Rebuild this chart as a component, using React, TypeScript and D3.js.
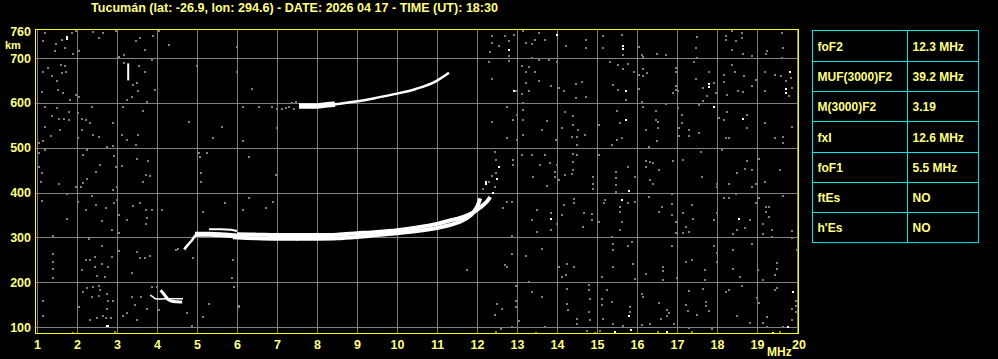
import React from "react";
import * as d3 from "d3";

const TITLE = "Tucumán (lat: -26.9, lon: 294.6) - DATE: 2026 04 17 - TIME (UT): 18:30";
const FREQ_TICKS = [1, 2, 3, 4, 5, 6, 7, 8, 9, 10, 11, 12, 13, 14, 15, 16, 17, 18, 19, 20];
const HEIGHT_TICKS = [100, 200, 300, 400, 500, 600, 700];
const HEIGHT_TOP_LABEL = 760;

const TABLE_LABELS = ["foF2", "MUF(3000)F2", "M(3000)F2", "fxI", "foF1", "ftEs", "h'Es"];
const TABLE_VALUES = ["12.3 MHz", "39.2 MHz", "3.19", "12.6 MHz", "5.5 MHz", "NO", "NO"];

// Echo traces [MHz, km]
const F2_FOOT: [number, number][] = [[4.68, 273], [4.76, 282], [4.88, 294], [4.97, 305], [5.1, 308]];
const F2_BAND: [number, number][] = [[4.95, 307], [5.3, 307], [5.7, 305], [6.0, 303]];
const F2_O: [number, number][] = [[5.9, 300], [6.5, 298], [7, 297], [7.5, 297], [8, 297], [8.5, 298], [9, 301], [9.5, 305], [10, 309], [10.5, 314], [11, 321], [11.3, 327], [11.6, 336], [11.85, 350], [12.0, 368], [12.08, 387]];
const F2_X: [number, number][] = [[6.0, 307], [6.5, 306], [7, 305], [7.5, 305], [8, 305], [8.5, 306], [9, 309], [9.5, 312], [10, 316], [10.5, 322], [11, 330], [11.3, 337], [11.6, 344], [11.9, 355], [12.1, 368], [12.25, 380], [12.33, 390]];
const F1_LINE: [number, number][] = [[5.3, 318], [5.6, 318], [5.85, 317], [6.0, 314]];
const E_UPPER: [number, number][] = [[3.83, 171], [3.9, 167], [3.96, 163], [4.2, 163], [4.65, 163]];
const E_LOWER: [number, number][] = [[4.09, 182], [4.15, 176], [4.22, 168], [4.28, 161], [4.4, 157], [4.63, 156]];
const F2_2HOP_THICK: [number, number][] = [[7.55, 593], [7.9, 593], [8.2, 595], [8.45, 597]];
const F2_2HOP: [number, number][] = [[7.55, 593], [8.0, 594], [8.47, 597], [8.97, 603], [9.47, 611], [9.97, 620], [10.47, 631], [10.97, 648], [11.3, 667]];
const SPIKE: [number, number][] = [[3.28, 650], [3.28, 688]];

// Bright isolated echoes [MHz, km]
const WHITE_DOTS: [number, number][] = [
  [1.73, 748], [1.73, 744], [13.97, 754], [12.78, 721], [15.63, 729], [15.63, 722], [12.9, 628], [15.69, 628], [15.69, 564],
  [13.83, 344], [15.59, 385], [15.78, 405], [15.83, 96], [15.78, 126], [15.43, 91], [17.78, 644], [17.78, 637],
  [17.9, 594], [18.63, 566], [19.8, 672], [19.69, 632], [19.69, 624], [18.53, 343], [19.88, 180], [19.74, 103],
  [19.38, 88], [16.73, 92], [2.72, 104], [2.75, 104], [12.38, 401], [12.48, 432], [12.19, 422], [12.53, 458], [12.19, 426],
];

// Grey noise echoes [MHz, km]
const NOISE: [number, number][] = [
  [1.18, 757], [1.84, 758], [1.94, 762], [2.38, 760], [2.53, 747], [2.63, 757], [2.95, 762], [3.55, 747], [3.88, 751],
  [1.44, 734], [1.59, 743], [1.68, 725], [1.88, 712], [1.13, 740], [1.43, 717], [2.03, 717], [3.15, 710], [3.03, 704],
  [4.28, 732], [3.68, 721], [3.45, 740], [4.03, 762], [1.57, 687], [1.68, 684], [1.13, 672], [1.34, 661], [1.48, 650],
  [1.59, 669], [1.7, 670], [1.26, 680], [1.09, 626], [1.51, 631], [1.63, 624], [1.8, 609], [1.95, 620], [2.03, 616],
  [3.15, 691], [3.38, 643], [3.47, 646], [3.51, 628], [3.34, 616], [3.23, 609], [3.53, 684], [3.68, 670], [3.84, 698],
  [3.93, 630], [3.73, 605], [3.13, 594], [4.98, 684], [1.18, 592], [1.48, 590], [1.78, 581], [1.99, 579], [1.34, 572],
  [1.53, 566], [1.65, 566], [1.78, 564], [1.18, 549], [1.32, 528], [1.55, 542], [2.09, 566], [2.2, 563], [2.3, 557],
  [2.09, 542], [2.38, 531], [2.53, 527], [2.87, 557], [3.09, 531], [3.23, 520], [3.45, 508], [3.51, 531], [3.62, 583],
  [2.34, 592], [2.87, 505], [2.73, 503], [4.78, 559], [5.59, 549], [5.38, 523], [1.03, 512], [1.13, 516], [2.01, 523],
  [1.03, 490], [1.18, 496], [1.03, 460], [1.09, 445], [1.08, 426], [1.53, 421], [2.23, 496], [2.13, 486], [2.9, 484],
  [2.55, 463], [2.45, 449], [2.95, 460], [3.09, 461], [3.48, 477], [3.74, 472], [3.7, 441], [3.8, 440], [3.63, 426],
  [2.23, 432], [2.13, 424], [2.07, 414], [1.95, 414], [2.88, 408], [2.97, 415], [5.03, 490], [5.23, 490], [5.05, 481],
  [5.08, 445], [5.08, 426], [1.09, 384], [1.73, 399], [2.01, 381], [2.34, 395], [2.45, 374], [2.7, 367], [2.9, 378],
  [2.97, 385], [2.2, 363], [1.73, 344], [2.59, 339], [3.03, 352], [3.23, 340], [3.38, 372], [3.55, 379], [3.7, 363],
  [3.84, 363], [3.72, 346], [3.7, 333], [4.09, 363], [2.84, 318], [3.03, 311], [1.38, 305], [2.28, 299], [5.13, 359],
  [5.68, 378], [4.45, 273], [4.5, 277], [1.38, 264], [1.38, 247], [1.38, 232], [1.38, 212], [2.09, 230], [2.2, 251],
  [2.3, 251], [2.43, 258], [2.59, 243], [2.43, 236], [2.76, 235], [2.84, 258], [2.48, 217], [2.68, 214], [2.59, 282],
  [3.03, 272], [3.34, 223], [3.48, 270], [3.55, 257], [3.68, 256], [3.8, 260], [4.88, 256], [5.88, 252], [5.84, 211],
  [1.13, 161], [1.13, 126], [2.03, 146], [2.23, 190], [2.38, 191], [2.53, 193], [2.55, 185], [2.13, 180], [2.34, 170],
  [2.53, 171], [2.73, 175], [2.76, 161], [2.88, 161], [2.73, 143], [2.63, 126], [2.48, 123], [2.7, 123], [2.82, 123],
  [2.3, 117], [3.12, 126], [3.22, 133], [3.34, 169], [3.43, 152], [3.57, 169], [3.72, 143], [3.84, 191], [3.98, 191],
  [4.03, 140], [4.72, 133], [4.84, 105], [5.13, 124], [5.28, 154], [5.9, 191], [3.47, 117], [1.88, 88], [2.93, 92],
  [5.97, 727], [5.97, 670], [6.34, 634], [6.13, 593], [6.53, 594], [6.98, 545], [6.13, 518], [6.28, 482], [6.94, 442],
  [6.28, 390], [6.13, 363], [6.88, 381], [6.69, 368], [11.73, 230], [6.03, 146], [6.03, 149], [7.48, 296],
  [6.84, 592], [6.98, 589], [7.09, 589], [7.2, 590], [7.28, 592], [7.34, 602], [7.45, 604], [7.4, 589],
  [12.34, 751], [12.34, 736], [12.68, 751], [12.9, 754], [13.13, 762], [13.53, 757], [13.2, 736], [13.34, 734],
  [13.43, 743], [13.68, 743], [14.2, 730], [14.7, 743], [14.7, 725], [15.13, 751], [15.13, 725], [15.59, 754],
  [15.63, 710], [12.53, 730], [12.3, 715], [12.78, 695], [12.78, 740], [12.78, 706], [12.28, 693], [13.09, 684], [13.28, 682],
  [13.34, 702], [13.53, 697], [13.78, 698], [13.97, 693], [13.2, 670], [13.43, 670], [13.2, 646], [13.53, 650],
  [13.82, 639], [14.03, 635], [14.15, 628], [14.45, 645], [14.59, 648], [14.7, 616], [14.45, 613], [15.38, 643],
  [15.3, 693], [15.49, 687], [15.63, 678], [15.9, 670], [15.74, 689], [12.34, 656], [12.95, 628], [13.09, 622],
  [13.28, 628], [15.51, 630], [15.7, 609], [13.13, 601], [12.73, 594], [13.13, 587], [12.97, 575], [12.34, 559],
  [12.88, 564], [13.13, 564], [13.59, 541], [13.73, 561], [14.09, 546], [14.18, 581], [14.38, 572], [14.38, 553],
  [14.5, 542], [14.47, 526], [14.68, 531], [14.34, 526], [14.48, 508], [13.95, 520], [15.03, 553], [15.48, 584],
  [15.55, 558], [15.47, 520], [15.34, 508], [15.59, 523], [12.73, 523], [13.13, 531], [12.98, 520], [12.43, 493],
  [12.45, 475], [12.45, 445], [12.43, 415], [12.88, 475], [12.88, 463], [13.09, 486], [13.34, 486], [13.68, 486],
  [13.8, 469], [13.98, 463], [13.93, 449], [13.93, 437], [14.02, 430], [14.18, 441], [14.37, 488], [14.37, 471],
  [14.37, 452], [14.48, 486], [14.35, 443], [13.55, 463], [13.38, 437], [13.73, 416], [14.88, 437], [14.88, 422],
  [14.88, 409], [15.03, 486], [15.45, 449], [15.45, 434], [15.45, 419], [15.45, 404], [15.93, 437], [15.76, 458],
  [12.84, 381], [12.73, 381], [12.63, 368], [13.48, 363], [13.34, 340], [13.48, 314], [13.83, 357], [13.83, 318],
  [13.97, 333], [14.09, 352], [14.15, 374], [14.4, 387], [14.4, 378], [14.65, 357], [14.84, 355], [14.84, 342],
  [14.63, 325], [15.03, 337], [15.15, 378], [15.18, 385], [15.55, 370], [15.55, 359], [15.59, 337], [15.55, 318],
  [15.74, 378], [15.93, 380], [15.36, 303], [15.38, 288], [15.38, 273], [15.84, 292], [15.76, 282], [15.88, 243],
  [15.93, 210], [12.84, 305], [12.84, 264], [12.68, 240], [12.73, 235], [13.2, 260], [13.59, 277], [14.03, 235],
  [14.23, 242], [14.2, 219], [14.09, 214], [14.4, 235], [15.1, 214], [15.38, 237], [13.28, 202], [12.95, 193],
  [13.34, 180], [13.59, 169], [14.23, 188], [14.78, 197], [14.78, 184], [14.8, 165], [14.78, 136], [15.09, 165],
  [15.09, 152], [15.23, 184], [15.34, 158], [15.8, 146], [15.8, 135], [12.48, 154], [12.59, 143], [12.43, 128],
  [12.95, 160], [12.95, 146], [13.03, 116], [12.84, 103], [12.57, 98], [12.44, 91], [13.45, 88], [13.68, 102],
  [14.23, 154], [14.26, 140], [14.47, 120], [14.47, 109], [14.8, 117], [14.93, 88], [14.72, 94], [15.05, 94],
  [15.12, 120], [15.63, 105], [15.38, 109], [12.36, 440], [12.28, 425], [12.13, 410],
  [16.03, 727], [16.09, 708], [16.13, 704], [16.48, 712], [16.69, 710], [17.48, 749], [17.45, 725], [17.48, 702],
  [17.4, 693], [18.2, 752], [18.34, 762], [18.2, 743], [18.45, 740], [18.59, 757], [18.59, 747], [18.34, 721],
  [18.62, 712], [18.84, 706], [19.2, 712], [19.23, 717], [19.59, 757], [19.62, 725], [19.59, 702], [16.13, 678],
  [16.23, 669], [16.03, 665], [16.13, 661], [16.03, 633], [16.95, 680], [16.95, 670], [16.95, 639], [16.95, 631],
  [16.88, 625], [17.0, 628], [17.45, 655], [17.78, 672], [17.63, 635], [17.9, 646], [17.95, 625], [17.73, 618],
  [17.63, 607], [17.53, 598], [18.15, 665], [18.15, 648], [18.23, 620], [18.42, 672], [18.34, 687], [18.65, 661],
  [18.51, 628], [18.63, 626], [18.95, 654], [18.85, 639], [19.17, 672], [19.17, 628], [19.42, 665], [19.57, 661],
  [19.69, 650], [19.82, 657], [19.84, 635], [19.78, 618], [16.09, 605], [16.13, 594], [16.69, 600], [16.44, 584],
  [16.44, 564], [16.51, 560], [16.2, 542], [16.51, 546], [16.48, 518], [16.28, 503], [17.0, 590], [17.09, 575],
  [17.03, 546], [17.03, 528], [17.28, 542], [17.53, 536], [17.09, 557], [17.28, 528], [18.03, 568], [18.23, 581],
  [18.15, 563], [18.73, 575], [18.73, 546], [18.2, 523], [18.28, 523], [19.17, 558], [19.42, 523], [19.63, 527],
  [19.63, 512], [19.84, 548], [16.3, 471], [16.2, 460], [16.37, 467], [16.53, 452], [16.2, 473], [16.3, 431],
  [16.37, 421], [16.87, 473], [17.13, 475], [17.58, 493], [17.6, 437], [17.98, 422], [17.98, 415], [18.09, 497],
  [18.28, 421], [18.48, 446], [18.68, 455], [18.84, 453], [18.73, 473], [18.84, 415], [18.95, 422], [19.03, 478],
  [19.17, 426], [19.55, 452], [19.63, 394], [16.28, 393], [16.84, 399], [16.84, 377], [16.84, 352], [16.95, 337],
  [16.95, 313], [16.53, 359], [16.6, 371], [17.13, 356], [17.34, 374], [17.38, 344], [17.2, 325], [17.28, 314],
  [17.13, 311], [17.9, 340], [17.97, 356], [18.15, 391], [18.28, 391], [18.45, 400], [18.48, 318], [18.38, 309],
  [18.67, 324], [18.8, 340], [18.95, 378], [19.03, 391], [19.2, 370], [19.2, 359], [19.28, 370], [19.28, 348],
  [19.13, 333], [19.13, 309], [19.34, 318], [19.34, 303], [19.84, 316], [19.84, 301], [19.98, 273], [16.84, 282],
  [16.63, 237], [16.63, 227], [16.63, 207], [16.2, 221], [16.98, 212], [17.2, 247], [17.34, 251], [17.67, 229],
  [17.67, 207], [17.9, 282], [17.97, 267], [17.97, 247], [18.38, 273], [18.38, 232], [18.55, 214], [18.84, 287],
  [19.0, 229], [19.13, 206], [19.48, 244], [19.48, 232], [19.42, 219], [16.09, 175], [16.13, 170], [16.53, 156],
  [16.73, 141], [16.73, 126], [16.78, 133], [16.57, 121], [16.09, 106], [16.3, 109], [16.51, 91], [16.9, 109],
  [17.28, 182], [17.2, 152], [17.26, 137], [17.47, 128], [17.63, 187], [17.7, 157], [17.7, 148], [17.78, 137],
  [17.28, 100], [17.34, 91], [17.84, 97], [18.2, 180], [18.28, 185], [18.48, 126], [18.59, 193], [18.8, 111],
  [18.98, 166], [19.03, 156], [19.13, 111], [19.23, 124], [19.23, 102], [19.42, 184], [19.48, 190], [19.63, 102],
  [19.84, 118], [19.94, 161], [19.94, 150], [19.95, 135], [19.84, 143], [19.55, 91],
];

const W = 998;
const H = 359;
const PLOT = { left: 35.5, right: 798.5, top: 29.5, bottom: 333.5 };

export default function App() {
  const x = d3.scaleLinear().domain([1, 20]).range([37, 797]);
  const y = d3.scaleLinear().domain([100, 700]).range([327, 58]);
  const line = d3.line<[number, number]>().x((d) => x(d[0])).y((d) => y(d[1])).curve(d3.curveMonotoneX);
  const lineV = d3.line<[number, number]>().x((d) => x(d[0])).y((d) => y(d[1])).curve(d3.curveCatmullRom);

  const textColor = "#ffff80";
  const font = "'Liberation Sans', Arial, sans-serif";
  const grid = "#808080";
  const noiseColor = "#7f7f7f";
  const dotW = x(1.05) - x(1);

  const tableLeft = 812.5;
  const tableRight = 978.5;
  const tableMid = 907.5;
  const tableTop = 30.5;
  const rowH = 30.3;

  const traces: { pts: [number, number][]; w: number; gen: any }[] = [
    { pts: F2_FOOT, w: 2.5, gen: lineV },
    { pts: F2_BAND, w: 5, gen: line },
    { pts: F2_O, w: 4, gen: lineV },
    { pts: F2_X, w: 4, gen: lineV },
    { pts: F1_LINE, w: 2, gen: line },
    { pts: E_UPPER, w: 1.5, gen: lineV },
    { pts: E_LOWER, w: 3, gen: lineV },
    { pts: F2_2HOP_THICK, w: 5.5, gen: line },
    { pts: F2_2HOP, w: 2.5, gen: line },
    { pts: SPIKE, w: 2, gen: line },
  ];

  return (
    <svg width={W} height={H} style={{ position: "absolute", left: 0, top: 0, background: "#000" }}>
      <style>{`body{margin:0;background:#000}`}</style>
      <rect x={0} y={0} width={W} height={H} fill="#000" />
      <text x={91} y={12} fill={textColor} fontFamily={font} fontWeight="bold" fontSize={13} textLength={407} lengthAdjust="spacingAndGlyphs">
        {TITLE}
      </text>

      {/* grid */}
      {FREQ_TICKS.map((f) => (
        <line key={"gx" + f} x1={Math.round(x(f)) + 0.5} x2={Math.round(x(f)) + 0.5} y1={PLOT.top} y2={PLOT.bottom} stroke={grid} strokeWidth={1} />
      ))}
      {HEIGHT_TICKS.map((h) => (
        <line key={"gy" + h} x1={PLOT.left} x2={PLOT.right} y1={Math.round(y(h)) + 0.5} y2={Math.round(y(h)) + 0.5} stroke={grid} strokeWidth={1} />
      ))}

      {/* noise */}
      {NOISE.map((d, i) => (
        <rect key={"n" + i} x={Math.round(x(d[0]))} y={Math.round(y(d[1]))} width={dotW} height={2} fill={noiseColor} />
      ))}
      {WHITE_DOTS.map((d, i) => (
        <rect key={"w" + i} x={Math.round(x(d[0]))} y={Math.round(y(d[1]))} width={dotW} height={2} fill="#fff" />
      ))}

      {/* traces */}
      {traces.map((t, i) => (
        <path key={"t" + i} d={t.gen(t.pts) || ""} fill="none" stroke="#fff" strokeWidth={t.w} strokeLinecap="butt" />
      ))}

      {/* border */}
      <rect x={PLOT.left} y={PLOT.top} width={PLOT.right - PLOT.left} height={PLOT.bottom - PLOT.top} fill="none" stroke="#ffff00" strokeWidth={1} />

      {/* y labels */}
      {[...HEIGHT_TICKS, HEIGHT_TOP_LABEL].map((h) => (
        <text key={"yl" + h} x={31} y={y(h) + 4.5} textAnchor="end" fill={textColor} fontFamily={font} fontWeight="bold" fontSize={12.5}>
          {h}
        </text>
      ))}
      <text x={5} y={48.5} fill={textColor} fontFamily={font} fontWeight="bold" fontSize={11}>km</text>

      {/* x labels */}
      {FREQ_TICKS.map((f) => (
        <text key={"xl" + f} x={x(f) + (f === 20 ? 2 : 0.5)} y={349} textAnchor="middle" fill={textColor} fontFamily={font} fontWeight="bold" fontSize={12.5}>
          {f}
        </text>
      ))}
      <text x={767} y={356} fill={textColor} fontFamily={font} fontWeight="bold" fontSize={12}>MHz</text>

      {/* table */}
      <g>
        <rect x={tableLeft} y={tableTop} width={tableRight - tableLeft} height={rowH * TABLE_LABELS.length} fill="#000" stroke="#00e8e8" strokeWidth={1} />
        <line x1={tableMid} x2={tableMid} y1={tableTop} y2={tableTop + rowH * TABLE_LABELS.length} stroke="#00e8e8" />
        {TABLE_LABELS.map((lab, i) => {
          const top = tableTop + i * rowH;
          return (
            <g key={"row" + i}>
              {i > 0 && <line x1={tableLeft} x2={tableRight} y1={Math.round(top) + 0.5} y2={Math.round(top) + 0.5} stroke="#00e8e8" />}
              <text x={817.5} y={top + rowH / 2 + 5} fill={textColor} fontFamily={font} fontWeight="bold" fontSize={12}>{lab}</text>
              <text x={912.5} y={top + rowH / 2 + 5} fill={textColor} fontFamily={font} fontWeight="bold" fontSize={12}>{TABLE_VALUES[i]}</text>
            </g>
          );
        })}
      </g>
    </svg>
  );
}
